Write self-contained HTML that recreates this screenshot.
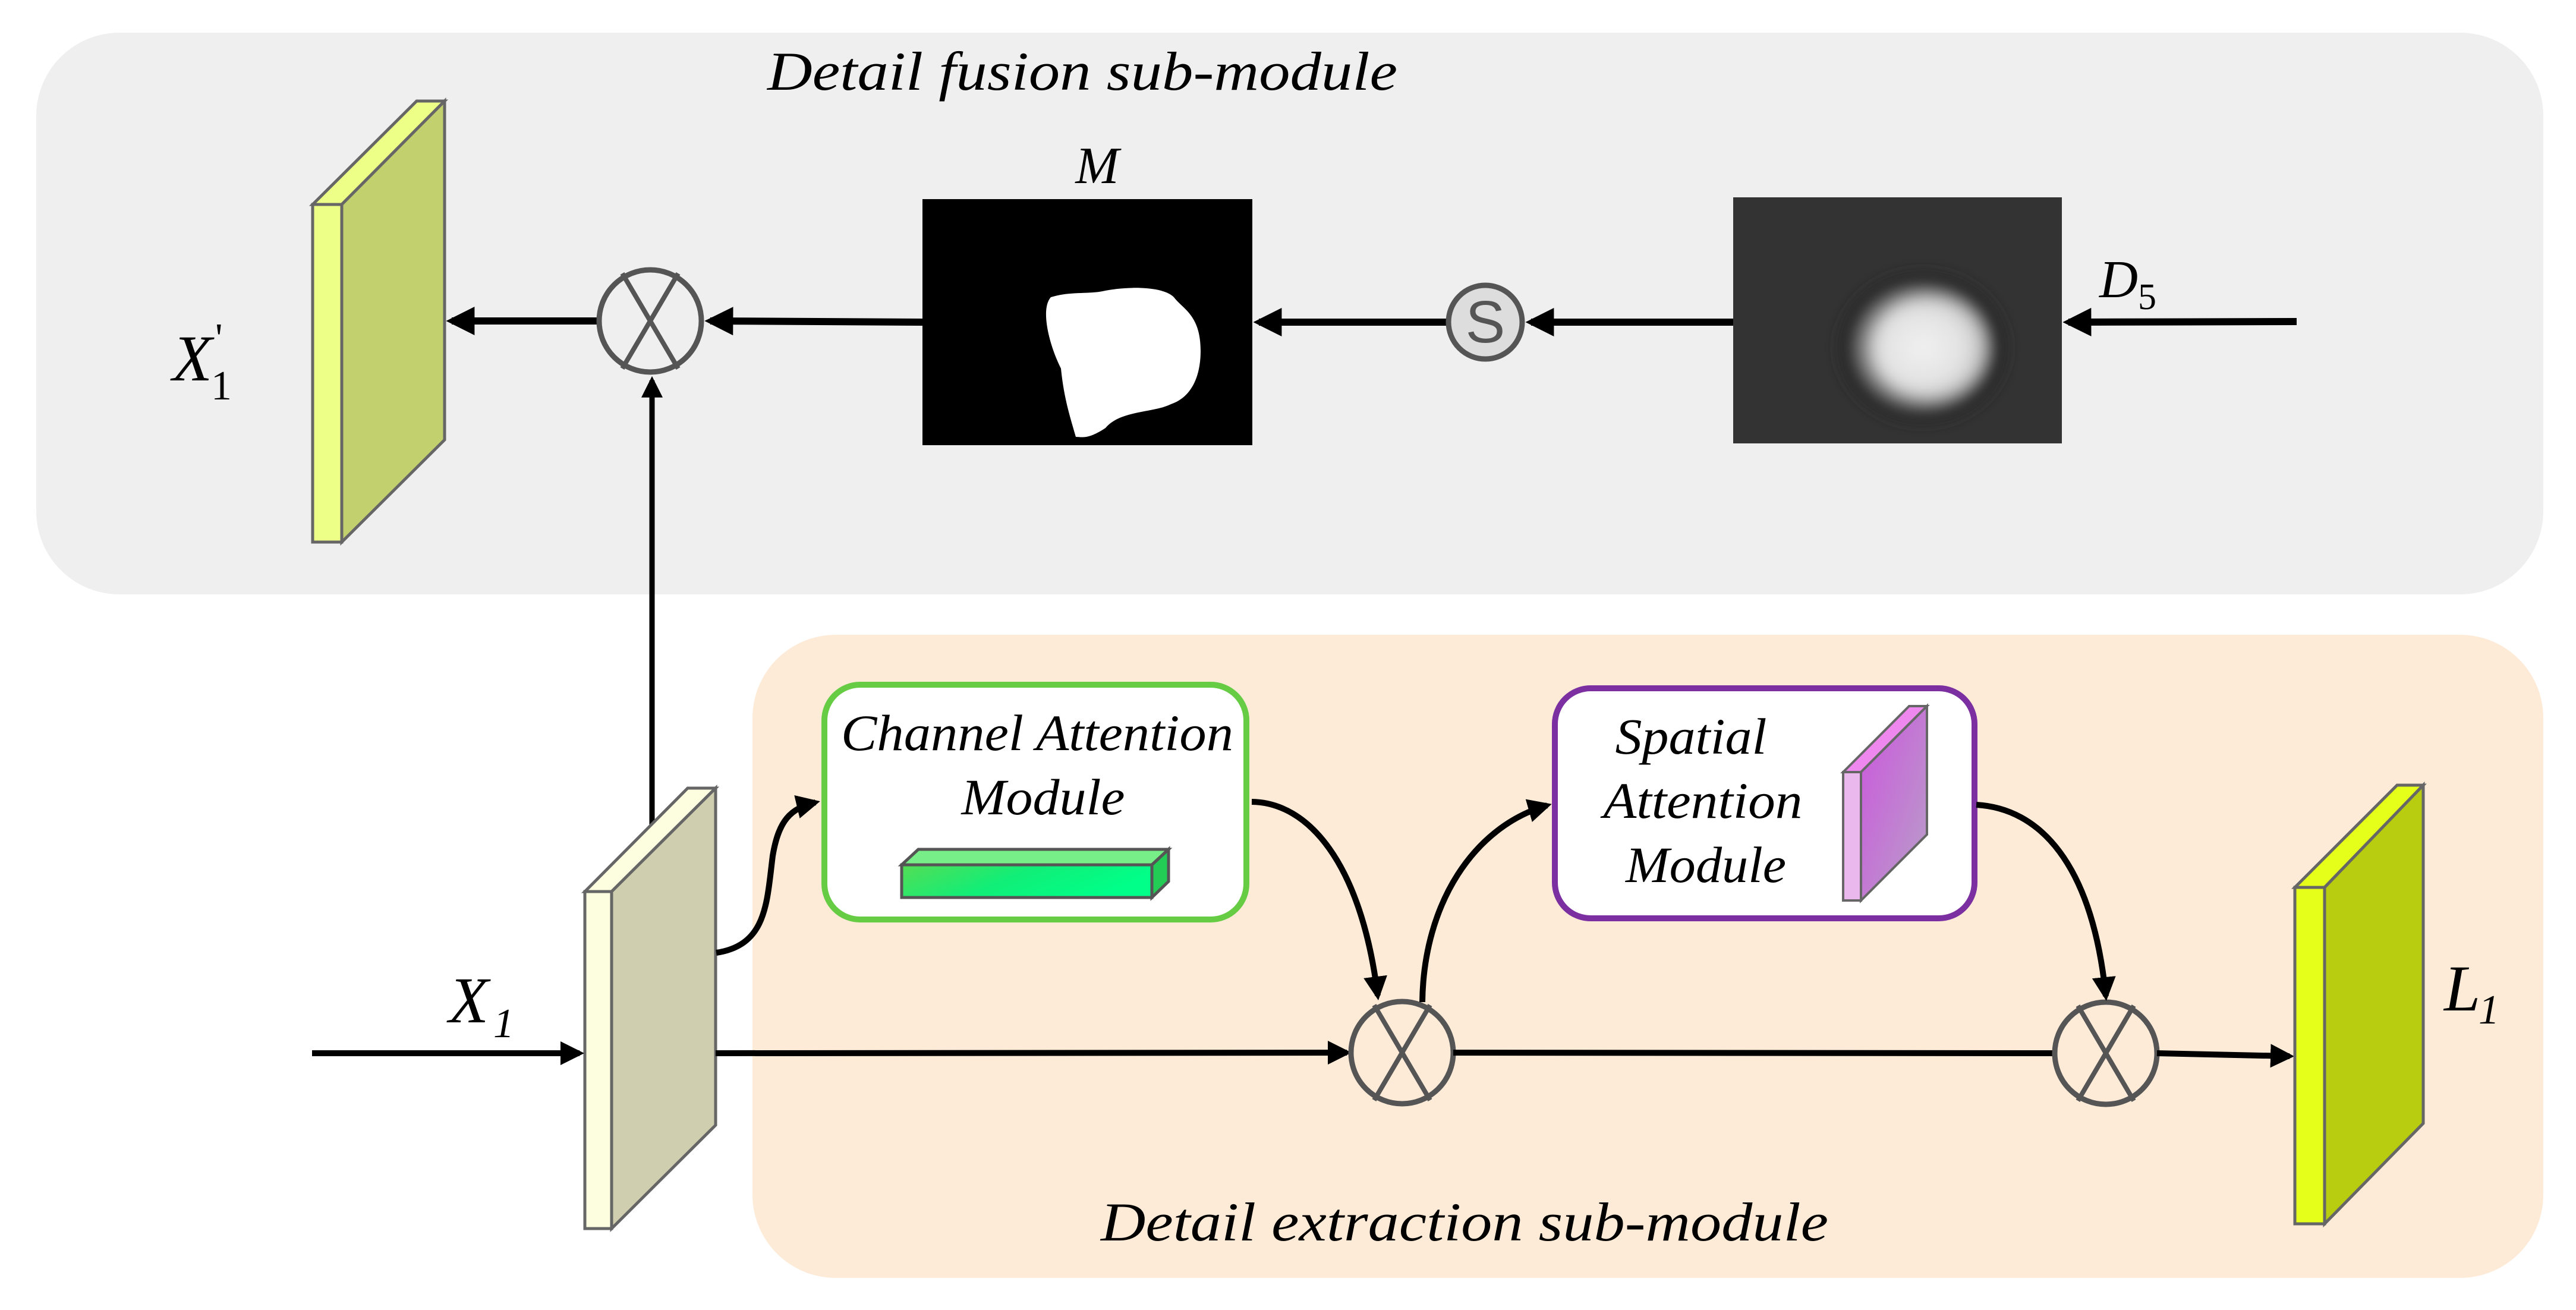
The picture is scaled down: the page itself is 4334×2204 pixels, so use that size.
<!DOCTYPE html>
<html><head><meta charset="utf-8"><style>html,body{margin:0;padding:0;background:#fff}svg{display:block}text{font-family:"Liberation Serif",serif;font-style:italic}</style></head>
<body>
<svg width="4334" height="2204" viewBox="0 0 4334 2204" xmlns="http://www.w3.org/2000/svg">
<defs>
<marker id="ah" markerWidth="4" markerHeight="4" refX="3.2" refY="2" orient="auto" markerUnits="strokeWidth">
<path d="M0,0 L4,2 L0,4 Z" fill="#000"/></marker>
<radialGradient id="blob" cx="50%" cy="50%" r="50%">
<stop offset="0" stop-color="#f4f4f4"/><stop offset="0.5" stop-color="#cfcfcf"/><stop offset="0.78" stop-color="#666"/><stop offset="0.9" stop-color="#151515"/><stop offset="1" stop-color="#333"/></radialGradient>
<clipPath id="d5c"><rect x="2916" y="332" width="553" height="414"/></clipPath>
<filter id="bl"><feGaussianBlur stdDeviation="12"/></filter>
<linearGradient id="gbar" x1="0" y1="0" x2="1" y2="0.3"><stop offset="0" stop-color="#55dd55"/><stop offset="0.5" stop-color="#11ee77"/><stop offset="1" stop-color="#00ff88"/></linearGradient>
<linearGradient id="pside" x1="0" y1="0" x2="1" y2="1"><stop offset="0" stop-color="#cc55dd"/><stop offset="1" stop-color="#b8a0c8"/></linearGradient>
</defs>
<rect x="61" y="55" width="4218" height="945" rx="140" fill="#efefef"/>
<rect x="1266" y="1068" width="3013" height="1082" rx="140" fill="#fdebd8"/>
<text x="1291" y="151" font-size="92" textLength="1060" lengthAdjust="spacingAndGlyphs">Detail fusion sub-module</text>
<text x="1852" y="2087" font-size="92" textLength="1224" lengthAdjust="spacingAndGlyphs">Detail extraction sub-module</text>

<polygon points="526,344 701,170 748,170 575,344" fill="#eeff88" stroke="#666" stroke-width="5"/>
<polygon points="575,344 748,170 748,740 575,912" fill="#c3d06e" stroke="#666" stroke-width="5"/>
<rect x="526" y="344" width="49" height="568" fill="#eeff88" stroke="#666" stroke-width="5"/>
<text x="290" y="640" font-size="110">X</text>
<text x="355" y="672" font-size="70" style="font-style:normal">1</text>
<text x="362" y="592" font-size="70" style="font-style:normal">'</text>

<line x1="1006" y1="540" x2="760" y2="540" stroke="#000" stroke-width="12" marker-end="url(#ah)"/>
<circle cx="1094" cy="540" r="86" fill="none" stroke="#555" stroke-width="9"/>
<line x1="1047" y1="460" x2="1141" y2="620" stroke="#555" stroke-width="8"/>
<line x1="1141" y1="460" x2="1047" y2="620" stroke="#555" stroke-width="8"/>
<line x1="1097" y1="1410" x2="1097" y2="640" stroke="#000" stroke-width="9" marker-end="url(#ah)"/>

<line x1="1552" y1="542" x2="1195" y2="540" stroke="#000" stroke-width="12" marker-end="url(#ah)"/>
<rect x="1552" y="335" width="555" height="414" fill="#000"/>
<path d="M1768,500 C1800,490 1830,495 1855,490 C1890,482 1955,480 1975,500 C1990,520 2020,530 2020,590 C2020,640 2000,670 1970,680 C1940,695 1885,690 1860,720 C1830,740 1820,735 1810,735 C1800,700 1790,670 1785,620 C1765,580 1750,520 1768,500 Z" fill="#fff"/>
<text x="1846" y="308" text-anchor="middle" font-size="88">M</text>

<line x1="2435" y1="542" x2="2118" y2="542" stroke="#000" stroke-width="12" marker-end="url(#ah)"/>
<line x1="2916" y1="542" x2="2576" y2="542" stroke="#000" stroke-width="12" marker-end="url(#ah)"/>
<circle cx="2499" cy="542" r="62" fill="#ddd" stroke="#555" stroke-width="9"/>
<text x="2499" y="576" text-anchor="middle" font-size="100" fill="#555" style="font-family:'Liberation Sans',sans-serif;font-style:normal">S</text>

<rect x="2916" y="332" width="553" height="414" fill="#333"/>
<g clip-path="url(#d5c)" filter="url(#bl)">
<ellipse cx="3235" cy="585" rx="140" ry="125" fill="url(#blob)"/>
<ellipse cx="3245" cy="585" rx="95" ry="85" fill="#eee" opacity="0.6"/>
</g>
<line x1="3864" y1="541" x2="3480" y2="542" stroke="#000" stroke-width="12" marker-end="url(#ah)"/>
<text x="3532" y="500" font-size="90">D</text>
<text x="3597" y="520" font-size="62" style="font-style:normal">5</text>

<polygon points="984,1500 1157,1326 1204,1326 1029,1500" fill="#fdfde0" stroke="#666" stroke-width="5"/>
<polygon points="1029,1500 1204,1326 1204,1893 1029,2067" fill="#cfcfb0" stroke="#666" stroke-width="5"/>
<rect x="984" y="1500" width="45" height="567" fill="#fdfde0" stroke="#666" stroke-width="5"/>
<text x="755" y="1720" font-size="110">X</text>
<text x="830" y="1745" font-size="70">1</text>
<line x1="525" y1="1772" x2="975" y2="1772" stroke="#000" stroke-width="10" marker-end="url(#ah)"/>

<line x1="1204" y1="1772" x2="2266" y2="1771" stroke="#000" stroke-width="10" marker-end="url(#ah)"/>
<circle cx="2359" cy="1771" r="86" fill="none" stroke="#555" stroke-width="9"/>
<line x1="2312" y1="1691" x2="2406" y2="1851" stroke="#555" stroke-width="8"/>
<line x1="2406" y1="1691" x2="2312" y2="1851" stroke="#555" stroke-width="8"/>
<line x1="2445" y1="1771" x2="3457" y2="1772" stroke="#000" stroke-width="10"/>
<circle cx="3543" cy="1772" r="86" fill="none" stroke="#555" stroke-width="9"/>
<line x1="3496" y1="1692" x2="3590" y2="1852" stroke="#555" stroke-width="8"/>
<line x1="3590" y1="1692" x2="3496" y2="1852" stroke="#555" stroke-width="8"/>
<line x1="3629" y1="1772" x2="3852" y2="1777" stroke="#000" stroke-width="10" marker-end="url(#ah)"/>

<polygon points="3861,1493 4033,1321 4077,1321 3911,1493" fill="#e6ff1a" stroke="#666" stroke-width="5"/>
<polygon points="3911,1493 4077,1321 4077,1890 3911,2059" fill="#b8cc10" stroke="#666" stroke-width="5"/>
<rect x="3861" y="1493" width="50" height="566" fill="#e6ff1a" stroke="#666" stroke-width="5"/>
<text x="4112" y="1700" font-size="110">L</text>
<text x="4170" y="1722" font-size="70">1</text>

<rect x="1387" y="1152" width="710" height="395" rx="60" fill="#fff" stroke="#66cc44" stroke-width="10"/>
<text x="1745" y="1262" text-anchor="middle" font-size="86" textLength="660" lengthAdjust="spacingAndGlyphs">Channel Attention</text>
<text x="1755" y="1370" text-anchor="middle" font-size="86" textLength="275" lengthAdjust="spacingAndGlyphs">Module</text>
<polygon points="1517,1455 1545,1429 1966,1429 1938,1455" fill="#77ee88" stroke="#555" stroke-width="5"/>
<polygon points="1938,1455 1966,1429 1966,1483 1938,1510" fill="#22cc55" stroke="#555" stroke-width="5"/>
<rect x="1517" y="1455" width="421" height="55" fill="url(#gbar)" stroke="#555" stroke-width="5"/>

<rect x="2616" y="1158" width="706" height="387" rx="60" fill="#fff" stroke="#7b2fa0" stroke-width="10"/>
<text x="2845" y="1268" text-anchor="middle" font-size="86" textLength="255" lengthAdjust="spacingAndGlyphs">Spatial</text>
<text x="2865" y="1376" text-anchor="middle" font-size="86" textLength="335" lengthAdjust="spacingAndGlyphs">Attention</text>
<text x="2870" y="1484" text-anchor="middle" font-size="86" textLength="270" lengthAdjust="spacingAndGlyphs">Module</text>
<polygon points="3101,1299 3212,1188 3242,1188 3131,1299" fill="#ee88ee" stroke="#666" stroke-width="4"/>
<polygon points="3131,1299 3242,1188 3242,1404 3131,1515" fill="url(#pside)" stroke="#666" stroke-width="4"/>
<rect x="3101" y="1299" width="30" height="216" fill="#ebb8ee" stroke="#666" stroke-width="4"/>

<path d="M1205,1603 C1290,1590 1290,1520 1300,1440 C1310,1380 1330,1360 1372,1350" fill="none" stroke="#000" stroke-width="10" marker-end="url(#ah)"/>
<path d="M2106,1349 C2200,1350 2290,1450 2318,1675" fill="none" stroke="#000" stroke-width="10" marker-end="url(#ah)"/>
<path d="M2393,1686 C2395,1520 2480,1390 2603,1355" fill="none" stroke="#000" stroke-width="10" marker-end="url(#ah)"/>
<path d="M3325,1354 C3430,1360 3520,1450 3543,1676" fill="none" stroke="#000" stroke-width="10" marker-end="url(#ah)"/>
</svg>
</body></html>
